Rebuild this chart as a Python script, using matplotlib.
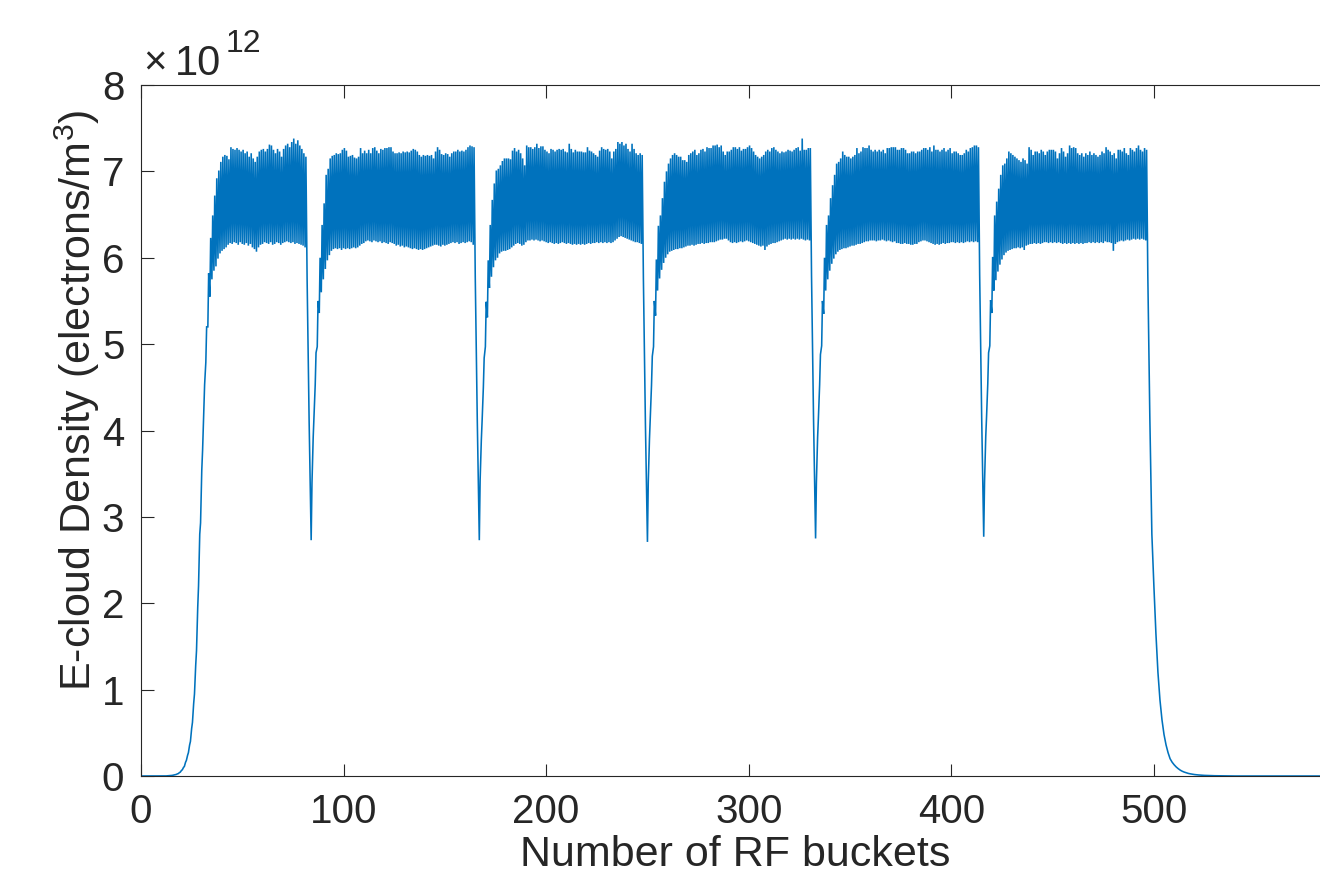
import matplotlib
matplotlib.use("Agg")
import matplotlib.pyplot as plt
from matplotlib.ticker import FuncFormatter, MultipleLocator

plt.rcParams["font.family"] = ["Liberation Sans", "DejaVu Sans"]
plt.rcParams["mathtext.fontset"] = "custom"
plt.rcParams["mathtext.rm"] = "Liberation Sans"
plt.rcParams["mathtext.it"] = "Liberation Sans:italic"

# Densities are given in units of 1e12 electrons/m^3
DENSITY_UNIT = 1e12

# First RF bucket of each bunch train
train_first_bucket = [0, 84, 167, 250, 333, 416]

# Per-bucket minimum / maximum of the e-cloud density
train0_trough = [0, 0, 0, 0, 0, 0, 0, 0, 0, 0, 0, 0,
                 0.001, 0.002, 0.004, 0.006, 0.010, 0.016, 0.025, 0.040, 0.065, 0.10,
                 0.16, 0.24, 0.36, 0.55, 0.84, 1.28, 1.95, 2.80, 3.54, 4.21,
                 4.79, 5.20, 5.55, 5.75, 5.85, 5.90, 5.99, 6.05, 6.08, 6.10,
                 6.12, 6.15, 6.17, 6.16, 6.18, 6.17, 6.15, 6.18, 6.16, 6.15,
                 6.17, 6.14, 6.16, 6.12, 6.10, 6.07, 6.12, 6.15, 6.16, 6.18,
                 6.17, 6.16, 6.18, 6.15, 6.16, 6.18, 6.17, 6.15, 6.17, 6.18,
                 6.19, 6.18, 6.17, 6.18, 6.16, 6.17, 6.16, 6.15, 6.14, 6.12]
train0_peak = [0, 0, 0, 0, 0, 0, 0, 0, 0, 0, 0, 0,
               0.001, 0.002, 0.004, 0.007, 0.011, 0.018, 0.028, 0.045, 0.072, 0.11,
               0.18, 0.27, 0.40, 0.62, 0.95, 1.45, 2.20, 2.93, 3.77, 4.53,
               5.20, 5.82, 6.23, 6.49, 6.72, 6.92, 7.01, 7.11, 7.17, 7.19,
               7.18, 7.14, 7.28, 7.26, 7.25, 7.27, 7.25, 7.23, 7.25, 7.21,
               7.23, 7.17, 7.21, 7.15, 7.11, 7.17, 7.23, 7.25, 7.26, 7.23,
               7.26, 7.31, 7.30, 7.25, 7.21, 7.26, 7.23, 7.17, 7.26, 7.30,
               7.32, 7.28, 7.34, 7.38, 7.32, 7.36, 7.30, 7.26, 7.21, 7.17]

train1_trough = [2.73, 3.92, 4.53, 4.97, 5.36, 5.60, 5.75, 5.87, 5.97, 6.03,
                 6.08, 6.10, 6.11, 6.10, 6.11, 6.09, 6.11, 6.10, 6.11, 6.10,
                 6.11, 6.12, 6.11, 6.12, 6.14, 6.16, 6.17, 6.19, 6.20, 6.19,
                 6.18, 6.20, 6.19, 6.18, 6.19, 6.17, 6.18, 6.17, 6.16, 6.18,
                 6.17, 6.16, 6.14, 6.15, 6.13, 6.14, 6.12, 6.13, 6.12, 6.11,
                 6.10, 6.11, 6.10, 6.09, 6.10, 6.09, 6.10, 6.11, 6.12, 6.13,
                 6.14, 6.15, 6.15, 6.14, 6.13, 6.15, 6.14, 6.15, 6.16, 6.17,
                 6.18, 6.17, 6.18, 6.16, 6.17, 6.18, 6.17, 6.18, 6.19, 6.18,
                 6.15]
train1_peak = [3.39, 4.16, 4.90, 5.50, 6.00, 6.38, 6.63, 6.96, 7.03, 7.15,
               7.18, 7.19, 7.21, 7.20, 7.21, 7.25, 7.27, 7.24, 7.17, 7.18,
               7.19, 7.16, 7.15, 7.17, 7.27, 7.21, 7.24, 7.21, 7.25, 7.21,
               7.27, 7.28, 7.24, 7.21, 7.26, 7.25, 7.27, 7.27, 7.28, 7.28,
               7.23, 7.21, 7.21, 7.22, 7.21, 7.23, 7.22, 7.23, 7.22, 7.24,
               7.26, 7.25, 7.23, 7.19, 7.17, 7.19, 7.18, 7.19, 7.18, 7.19,
               7.15, 7.23, 7.28, 7.25, 7.20, 7.19, 7.21, 7.20, 7.17, 7.21,
               7.23, 7.23, 7.25, 7.23, 7.24, 7.23, 7.25, 7.28, 7.30, 7.29,
               7.28]

train2_trough = [2.73, 3.89, 4.50, 4.97, 5.31, 5.65, 5.78, 5.89, 5.97, 6.00,
                 6.05, 6.07, 6.08, 6.08, 6.09, 6.10, 6.12, 6.14, 6.16, 6.17,
                 6.16, 6.14, 6.15, 6.18, 6.20, 6.20, 6.21, 6.20, 6.21, 6.20,
                 6.19, 6.20, 6.19, 6.18, 6.17, 6.18, 6.17, 6.16, 6.17, 6.16,
                 6.17, 6.18, 6.17, 6.16, 6.17, 6.16, 6.15, 6.16, 6.15, 6.16,
                 6.15, 6.16, 6.15, 6.16, 6.17, 6.16, 6.17, 6.17, 6.18, 6.17,
                 6.18, 6.17, 6.18, 6.17, 6.18, 6.17, 6.18, 6.20, 6.22, 6.24,
                 6.25, 6.24, 6.23, 6.22, 6.21, 6.20, 6.19, 6.18, 6.18, 6.17,
                 6.16]
train2_peak = [3.42, 4.12, 4.84, 5.49, 5.97, 6.38, 6.67, 6.86, 7.01, 7.03,
               7.07, 7.12, 7.15, 7.15, 7.15, 7.14, 7.24, 7.27, 7.23, 7.25,
               7.21, 7.15, 7.07, 7.30, 7.28, 7.28, 7.26, 7.28, 7.32, 7.27,
               7.29, 7.29, 7.25, 7.23, 7.21, 7.26, 7.25, 7.23, 7.25, 7.26,
               7.25, 7.26, 7.23, 7.22, 7.32, 7.26, 7.22, 7.25, 7.23, 7.23,
               7.23, 7.22, 7.22, 7.28, 7.24, 7.23, 7.21, 7.19, 7.17, 7.24,
               7.28, 7.26, 7.25, 7.26, 7.23, 7.15, 7.23, 7.26, 7.34, 7.32,
               7.34, 7.30, 7.32, 7.26, 7.23, 7.32, 7.26, 7.21, 7.19, 7.21,
               7.19]

train3_trough = [2.71, 3.90, 4.52, 4.97, 5.33, 5.62, 5.76, 5.86, 5.94, 6.00,
                 6.04, 6.07, 6.08, 6.09, 6.10, 6.10, 6.11, 6.11, 6.12, 6.13,
                 6.14, 6.14, 6.15, 6.14, 6.15, 6.16, 6.16, 6.17, 6.16, 6.17,
                 6.17, 6.18, 6.18, 6.18, 6.19, 6.20, 6.21, 6.21, 6.22, 6.22,
                 6.20, 6.18, 6.17, 6.18, 6.17, 6.18, 6.19, 6.18, 6.19, 6.20,
                 6.19, 6.18, 6.17, 6.16, 6.15, 6.14, 6.13, 6.14, 6.09, 6.13,
                 6.15, 6.16, 6.17, 6.17, 6.18, 6.19, 6.20, 6.21, 6.22, 6.21,
                 6.22, 6.21, 6.22, 6.21, 6.22, 6.21, 6.22, 6.21, 6.20, 6.21,
                 6.20]
train3_peak = [3.40, 4.14, 4.86, 5.50, 5.98, 6.37, 6.49, 6.69, 6.88, 7.00,
               7.09, 7.15, 7.19, 7.21, 7.19, 7.17, 7.17, 7.13, 7.13, 7.11,
               7.19, 7.21, 7.23, 7.25, 7.19, 7.21, 7.25, 7.26, 7.23, 7.28,
               7.27, 7.27, 7.30, 7.30, 7.31, 7.28, 7.30, 7.23, 7.19, 7.23,
               7.23, 7.25, 7.28, 7.28, 7.26, 7.28, 7.24, 7.26, 7.26, 7.28,
               7.30, 7.27, 7.23, 7.19, 7.17, 7.15, 7.17, 7.19, 7.23, 7.25,
               7.23, 7.27, 7.28, 7.25, 7.23, 7.21, 7.23, 7.22, 7.23, 7.25,
               7.24, 7.23, 7.25, 7.27, 7.28, 7.24, 7.38, 7.25, 7.25, 7.27,
               7.27]

train4_trough = [2.75, 3.92, 4.53, 4.98, 5.35, 5.62, 5.75, 5.85, 5.93, 5.99,
                 6.04, 6.07, 6.09, 6.10, 6.11, 6.11, 6.12, 6.13, 6.14, 6.14,
                 6.15, 6.16, 6.16, 6.17, 6.18, 6.19, 6.19, 6.20, 6.20, 6.20,
                 6.19, 6.20, 6.20, 6.21, 6.20, 6.19, 6.20, 6.19, 6.18, 6.19,
                 6.17, 6.17, 6.16, 6.16, 6.17, 6.16, 6.16, 6.15, 6.15, 6.16,
                 6.16, 6.18, 6.19, 6.20, 6.20, 6.19, 6.18, 6.17, 6.16, 6.15,
                 6.16, 6.15, 6.16, 6.17, 6.16, 6.17, 6.17, 6.18, 6.18, 6.17,
                 6.18, 6.17, 6.18, 6.17, 6.18, 6.19, 6.18, 6.19, 6.18, 6.19,
                 6.18]
train4_peak = [3.40, 4.15, 4.88, 5.50, 6.00, 6.38, 6.49, 6.69, 6.84, 6.96,
               7.09, 7.11, 7.15, 7.23, 7.19, 7.17, 7.17, 7.15, 7.17, 7.19,
               7.27, 7.21, 7.23, 7.28, 7.27, 7.27, 7.30, 7.25, 7.23, 7.25,
               7.23, 7.25, 7.23, 7.25, 7.21, 7.27, 7.27, 7.28, 7.28, 7.28,
               7.25, 7.25, 7.27, 7.27, 7.25, 7.21, 7.21, 7.23, 7.23, 7.21,
               7.23, 7.23, 7.25, 7.27, 7.27, 7.25, 7.28, 7.23, 7.30, 7.25,
               7.25, 7.23, 7.25, 7.27, 7.23, 7.25, 7.27, 7.21, 7.23, 7.23,
               7.21, 7.19, 7.19, 7.21, 7.25, 7.23, 7.27, 7.28, 7.30, 7.30,
               7.28]

train5_trough = [2.77, 3.93, 4.54, 4.98, 5.36, 5.62, 5.74, 5.84, 5.92, 5.98,
                 6.03, 6.06, 6.08, 6.09, 6.10, 6.11, 6.11, 6.12, 6.11, 6.12,
                 6.09, 6.14, 6.15, 6.16, 6.16, 6.17, 6.16, 6.17, 6.16, 6.17,
                 6.18, 6.18, 6.17, 6.18, 6.17, 6.18, 6.17, 6.18, 6.17, 6.16,
                 6.17, 6.16, 6.17, 6.16, 6.17, 6.16, 6.17, 6.16, 6.17, 6.16,
                 6.17, 6.17, 6.18, 6.17, 6.18, 6.17, 6.18, 6.17, 6.18, 6.17,
                 6.19, 6.18, 6.18, 6.17, 6.08, 6.16, 6.18, 6.19, 6.20, 6.19,
                 6.20, 6.21, 6.20, 6.21, 6.22, 6.21, 6.22, 6.21, 6.22, 6.21,
                 6.20]
train5_peak = [3.40, 4.16, 4.90, 5.51, 6.01, 6.49, 6.65, 6.80, 6.96, 7.07,
               7.09, 7.15, 7.23, 7.21, 7.19, 7.17, 7.15, 7.13, 7.11, 7.15,
               7.13, 7.09, 7.28, 7.25, 7.19, 7.23, 7.23, 7.21, 7.25, 7.23,
               7.19, 7.23, 7.25, 7.25, 7.25, 7.23, 7.15, 7.21, 7.27, 7.23,
               7.17, 7.21, 7.30, 7.27, 7.28, 7.27, 7.21, 7.19, 7.21, 7.17,
               7.21, 7.19, 7.23, 7.19, 7.21, 7.19, 7.17, 7.19, 7.23, 7.21,
               7.28, 7.25, 7.23, 7.19, 7.21, 7.15, 7.25, 7.25, 7.23, 7.27,
               7.21, 7.19, 7.27, 7.25, 7.23, 7.27, 7.30, 7.25, 7.23, 7.27,
               7.25]

# Density in the two empty buckets that follow each of the first five trains
gap_density = [[5.75, 4.10], [5.78, 4.12], [5.76, 4.08], [5.79, 4.12], [5.80, 4.14]]

# Decay after the last train
tail_bucket = [497, 498, 499, 500, 501, 502, 503, 504, 505, 506, 507, 508, 509,
               510, 511, 512, 513, 514, 515, 516, 517, 518, 520, 522, 525, 530,
               535, 540, 582]
tail_density = [5.80, 4.15, 2.80, 2.20, 1.65, 1.20, 0.88, 0.65, 0.48, 0.36, 0.27,
                0.20, 0.16, 0.13, 0.105, 0.085, 0.068, 0.055, 0.045, 0.037, 0.030,
                0.025, 0.017, 0.012, 0.007, 0.003, 0.001, 0.0, 0.0]

troughs = [train0_trough, train1_trough, train2_trough, train3_trough, train4_trough, train5_trough]
peaks = [train0_peak, train1_peak, train2_peak, train3_peak, train4_peak, train5_peak]

# Assemble the time trace: each filled bucket rises from its minimum to its maximum
bucket, density = [], []
for k, start in enumerate(train_first_bucket):
    for i, (lo, hi) in enumerate(zip(troughs[k], peaks[k])):
        bucket += [start + i, start + i + 0.4]
        density += [lo, hi]
    if k < len(gap_density):
        end = start + len(troughs[k])
        for j, v in enumerate(gap_density[k]):
            bucket.append(end + j)
            density.append(v)
bucket += tail_bucket
density += tail_density
density = [v * DENSITY_UNIT for v in density]

W, H = 1320, 877
fig = plt.figure(figsize=(W / 100, H / 100), dpi=100)
ax = fig.add_axes([141 / W, (H - 776) / H, (W - 141) / W, (776 - 85) / H])

ax.plot(bucket, density, color="#0072BD", linewidth=1.15, solid_joinstyle="miter")

ax.set_xlim(0, 582)
ax.set_ylim(0, 8 * DENSITY_UNIT)
ax.xaxis.set_major_locator(MultipleLocator(100))
ax.yaxis.set_major_locator(MultipleLocator(DENSITY_UNIT))
ax.yaxis.set_major_formatter(FuncFormatter(lambda v, p: f"{v / DENSITY_UNIT:g}"))

axis_color = "#262626"
for side in ("left", "bottom", "top"):
    ax.spines[side].set_color(axis_color)
    ax.spines[side].set_linewidth(0.8)
ax.spines["right"].set_visible(False)
ax.tick_params(direction="in", length=9, width=0.8, color=axis_color,
               labelcolor=axis_color, labelsize=29, pad=12, top=True)

ax.set_xlabel("Number of RF buckets", fontsize=31, color=axis_color, labelpad=4)
ax.xaxis.set_label_coords((735 - 141) / (W - 141), -0.085)
fig.text(77 / W, 1 - 400 / H, r"E-cloud Density (electrons/m$^{3}$)",
         rotation=90, ha="center", va="center", fontsize=31, color=axis_color)

# Common exponent of the y axis
fig.text(143 / W, 1 - 74 / H, "\u00d7", ha="left", va="baseline",
         fontsize=29, color=axis_color)
fig.text(175 / W, 1 - 75 / H, "10", ha="left", va="baseline",
         fontsize=30, color=axis_color)
fig.text(226 / W, 1 - 52 / H, "12", ha="left", va="baseline",
         fontsize=23, color=axis_color)

fig.savefig("out.png", dpi=100, facecolor="white")
